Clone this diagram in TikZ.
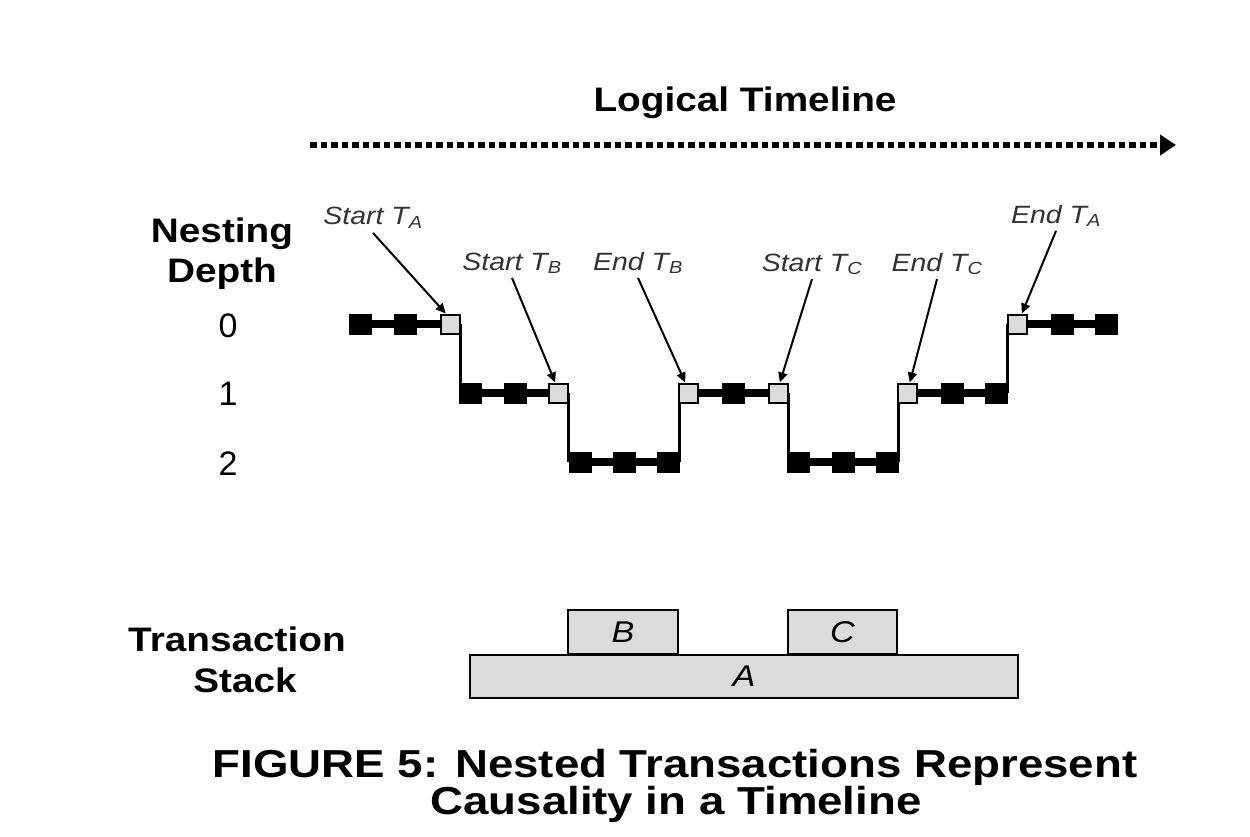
\documentclass[tikz,border=0pt]{standalone}
\usepackage{fontspec}
\setmainfont{Liberation Sans}
\newfontfamily\bfam{Liberation Sans}[FakeStretch=1.14]
\newfontfamily\cfam{Liberation Sans}[FakeStretch=1.17]
\newfontfamily\ifam{Liberation Sans}[FakeStretch=1.14]
\usetikzlibrary{arrows.meta,backgrounds}
\definecolor{boxgray}{HTML}{DBDBDB}
\definecolor{lblgray}{HTML}{333333}
\begin{document}
\begin{tikzpicture}[x=1pt,y=-1pt,
  blk/.style={draw=black,fill=black,minimum width=22pt,minimum height=20pt,inner sep=0pt,line width=0.5pt},
  gry/.style={draw=black,fill=boxgray,minimum width=19pt,minimum height=19pt,inner sep=0pt,line width=2pt},
  hbar/.style={line width=7.5pt},
  vbar/.style={line width=2.5pt},
  ptr/.style={line width=2pt,draw=black,-{Triangle[length=10pt,width=9pt]}},
  evlbl/.style={font=\ifam\itshape\fontsize{25}{28}\selectfont,text=lblgray,anchor=base,inner sep=4pt},
  head/.style={font=\bfam\bfseries\fontsize{34}{38}\selectfont,anchor=base,inner sep=0pt},
  capt/.style={font=\cfam\bfseries\fontsize{39}{42}\selectfont,anchor=base,inner sep=0pt},
  digit/.style={font=\fontsize{34}{36}\selectfont,anchor=base,inner sep=0pt},
  stk/.style={draw=black,fill=boxgray,line width=2pt,inner sep=0pt,font=\ifam\itshape\fontsize{30}{32}\selectfont}
]
\useasboundingbox (0,0) rectangle (1250,837);

% title and timeline arrow
\node[head] (title) at (745,112) {Logical Timeline};
\coordinate (tl0) at (310,145);
\coordinate (tl1) at (1176,145);
\draw[line width=6.5pt,dash pattern=on 6.5pt off 4pt,-{Triangle[length=16pt,width=20pt]}] (tl0) -- (tl1);

% left labels
\node[head] (nest) at (222,242) {Nesting};
\node[head] (depth) at (222,282) {Depth};
\node[digit] (d0) at (228,337) {0};
\node[digit] (d1) at (228,405) {1};
\node[digit] (d2) at (228,475) {2};

% timeline squares
\node[blk] (a1) at (360,324) {};
\node[blk] (a2) at (405,324) {};
\node[gry] (g1) at (450,324) {};
\node[blk] (b1) at (470,393) {};
\node[blk] (b2) at (515,393) {};
\node[gry] (g2) at (558,393) {};
\node[blk] (c1) at (580,462) {};
\node[blk] (c2) at (624,462) {};
\node[blk] (c3) at (668,462) {};
\node[gry] (g3) at (688,393) {};
\node[blk] (b3) at (733,393) {};
\node[gry] (g4) at (778,393) {};
\node[blk] (c4) at (798,462) {};
\node[blk] (c5) at (843,462) {};
\node[blk] (c6) at (887,462) {};
\node[gry] (g5) at (907,393) {};
\node[blk] (b4) at (952,393) {};
\node[blk] (b5) at (996,393) {};
\node[gry] (g6) at (1017,324) {};
\node[blk] (a3) at (1062,324) {};
\node[blk] (a4) at (1106,324) {};

\begin{scope}[on background layer]
\fill[white] (0,0) rectangle (1250,837);
\draw[hbar] (a1) -- (a2) -- (g1);
\draw[hbar] (b1) -- (b2) -- (g2);
\draw[hbar] (c1) -- (c2) -- (c3);
\draw[hbar] (g3) -- (b3) -- (g4);
\draw[hbar] (c4) -- (c5) -- (c6);
\draw[hbar] (g5) -- (b4) -- (b5);
\draw[hbar] (g6) -- (a3) -- (a4);
\draw[vbar] (g1.east) -- (g1.east |- b1.center);
\draw[vbar] (g2.east) -- (g2.east |- c1.center);
\draw[vbar] (c3.east) -- (c3.east |- g3.center);
\draw[vbar] (g4.east) -- (g4.east |- c4.center);
\draw[vbar] (c6.east) -- (c6.east |- g5.center);
\draw[vbar] (b5.east) -- (b5.east |- g6.center);
\end{scope}

% event labels
\node[evlbl] (lSA) at (373,225) {Start T\textsubscript{A}};
\node[evlbl] (lSB) at (512,270) {Start T\textsubscript{B}};
\node[evlbl] (lEB) at (638,270) {End T\textsubscript{B}};
\node[evlbl] (lSC) at (812,271) {Start T\textsubscript{C}};
\node[evlbl] (lEC) at (937,271) {End T\textsubscript{C}};
\node[evlbl] (lEA) at (1056,223) {End T\textsubscript{A}};

\draw[ptr] (lSA.south) -- (g1.112);
\draw[ptr] (lSB.south) -- (g2.105);
\draw[ptr] (lEB.south) -- (g3.105);
\draw[ptr] (lSC.south) -- (g4.80);
\draw[ptr] (lEC.south) -- (g5.75);
\draw[ptr] (lEA.south) -- (g6.65);

% transaction stack
\node[head] (trans) at (237,651) {Transaction};
\node[head] (stack) at (245,692) {Stack};
\node[stk,minimum width=548pt,minimum height=43pt] (sA) at (744,676) {A};
\node[stk,minimum width=110pt,minimum height=44pt] (sB) at (623,632) {B};
\node[stk,minimum width=109pt,minimum height=44pt] (sC) at (842.5,632) {C};

% caption
\node[capt] (cap1) at (675,777) {FIGURE 5: Nested Transactions Represent};
\node[capt] (cap2) at (676,814) {Causality in a Timeline};
\end{tikzpicture}
\end{document}
